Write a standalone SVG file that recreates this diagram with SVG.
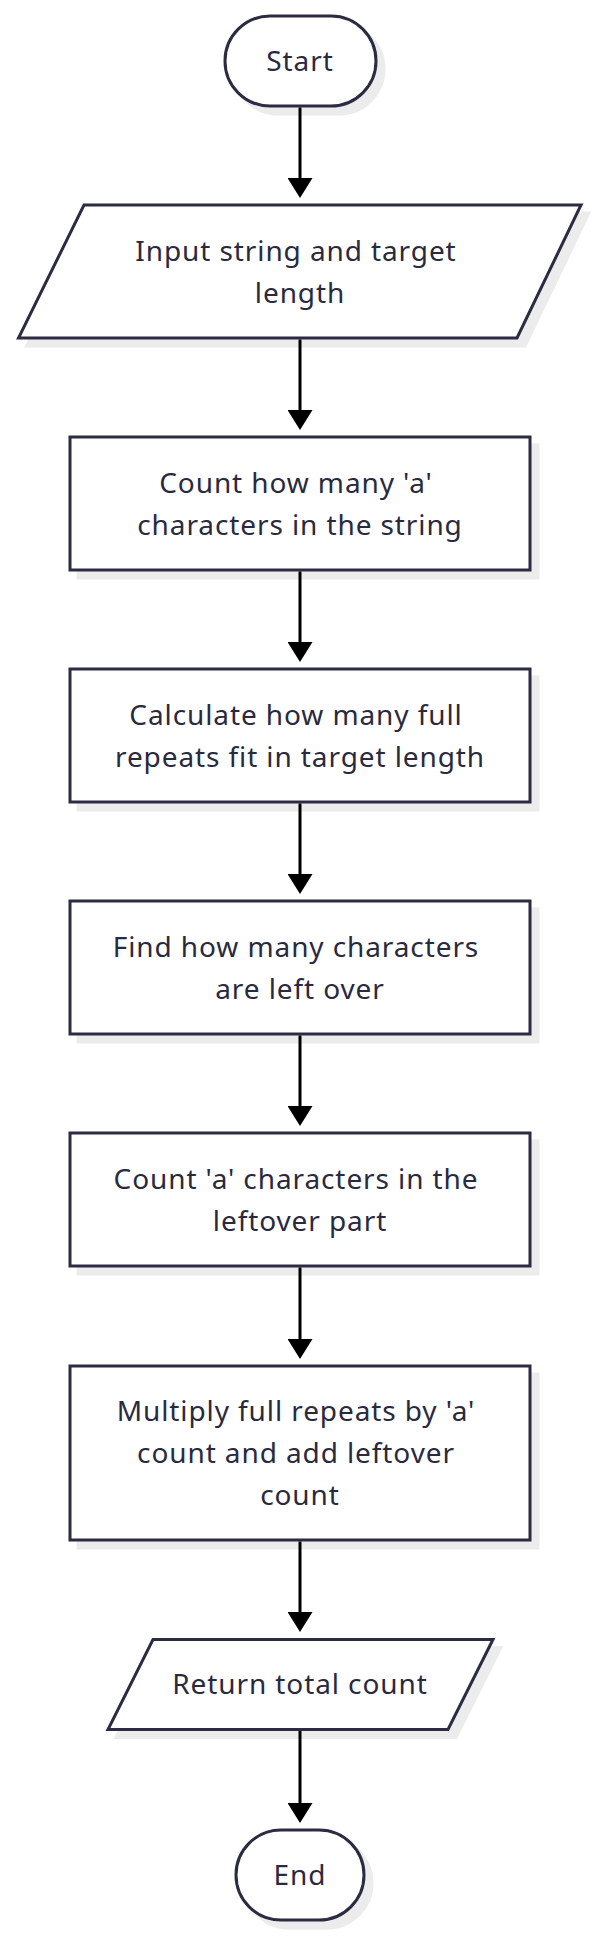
<svg xmlns="http://www.w3.org/2000/svg" width="600" height="1936" viewBox="0 0 600 1936">
<style>
.bg{fill:#ffffff}
.sh{fill:#ececec;stroke:#ececec;stroke-width:3}
.nd{fill:#ffffff;stroke:#2b2b42;stroke-width:3}
.tx{font-family:"Noto Sans","DejaVu Sans",sans-serif;font-size:28px;fill:#2a2a3f;text-anchor:middle;letter-spacing:0.9px}
.cn{stroke:#000000;stroke-width:3;fill:none}
</style>
<defs>
<marker id="ah" markerUnits="userSpaceOnUse" markerWidth="20" markerHeight="25" refX="0" refY="12.5" orient="auto" viewBox="0 0 20 25">
<path d="M0,0 L20,12.5 L0,25 Z" fill="#000000"/>
</marker>
</defs>
<rect class="bg" x="0" y="0" width="600" height="1936"/>
<g id="start">
<rect class="sh" x="233" y="24" width="151" height="90" rx="45"/>
<rect class="nd" x="225" y="16" width="151" height="90" rx="45"/>
<text class="tx" x="300" y="70.5">Start</text>
</g>
<g id="input">
<polygon class="sh" points="92,213 589,213 525,346 26.5,346"/>
<polygon class="nd" points="84,205 581,205 517,338 18.5,338"/>
<text class="tx" x="296" y="260.5">Input string and target</text>
<text class="tx" x="300" y="302.5">length</text>
</g>
<g id="count-a">
<rect class="sh" x="78" y="445" width="460" height="133"/>
<rect class="nd" x="70" y="437" width="460" height="133"/>
<text class="tx" x="296" y="492.5">Count how many 'a'</text>
<text class="tx" x="300" y="534.5">characters in the string</text>
</g>
<g id="full-repeats">
<rect class="sh" x="78" y="677" width="460" height="133"/>
<rect class="nd" x="70" y="669" width="460" height="133"/>
<text class="tx" x="296" y="724.5">Calculate how many full</text>
<text class="tx" x="300" y="766.5">repeats fit in target length</text>
</g>
<g id="leftover">
<rect class="sh" x="78" y="909" width="460" height="133"/>
<rect class="nd" x="70" y="901" width="460" height="133"/>
<text class="tx" x="296" y="956.5">Find how many characters</text>
<text class="tx" x="300" y="998.5">are left over</text>
</g>
<g id="count-leftover">
<rect class="sh" x="78" y="1141" width="460" height="133"/>
<rect class="nd" x="70" y="1133" width="460" height="133"/>
<text class="tx" x="296" y="1188.5">Count 'a' characters in the</text>
<text class="tx" x="300" y="1230.5">leftover part</text>
</g>
<g id="multiply">
<rect class="sh" x="78" y="1374" width="460" height="174"/>
<rect class="nd" x="70" y="1366" width="460" height="174"/>
<text class="tx" x="296" y="1421">Multiply full repeats by 'a'</text>
<text class="tx" x="296" y="1463">count and add leftover</text>
<text class="tx" x="300" y="1505">count</text>
</g>
<g id="return">
<polygon class="sh" points="161,1647.5 501,1647.5 456,1737.5 116,1737.5"/>
<polygon class="nd" points="153,1639.5 493,1639.5 448,1729.5 108,1729.5"/>
<text class="tx" x="300" y="1694">Return total count</text>
</g>
<g id="end">
<rect class="sh" x="244" y="1838" width="128" height="90" rx="45"/>
<rect class="nd" x="236" y="1830" width="128" height="90" rx="45"/>
<text class="tx" x="300" y="1884.5">End</text>
</g>
<g id="connectors">
<line class="cn" x1="300" y1="107.5" x2="300" y2="178" marker-end="url(#ah)"/>
<line class="cn" x1="300" y1="339.5" x2="300" y2="410" marker-end="url(#ah)"/>
<line class="cn" x1="300" y1="571.5" x2="300" y2="642" marker-end="url(#ah)"/>
<line class="cn" x1="300" y1="803.5" x2="300" y2="874" marker-end="url(#ah)"/>
<line class="cn" x1="300" y1="1035.5" x2="300" y2="1106" marker-end="url(#ah)"/>
<line class="cn" x1="300" y1="1267.5" x2="300" y2="1339" marker-end="url(#ah)"/>
<line class="cn" x1="300" y1="1541.5" x2="300" y2="1612" marker-end="url(#ah)"/>
<line class="cn" x1="300" y1="1731" x2="300" y2="1803" marker-end="url(#ah)"/>
</g>
</svg>
